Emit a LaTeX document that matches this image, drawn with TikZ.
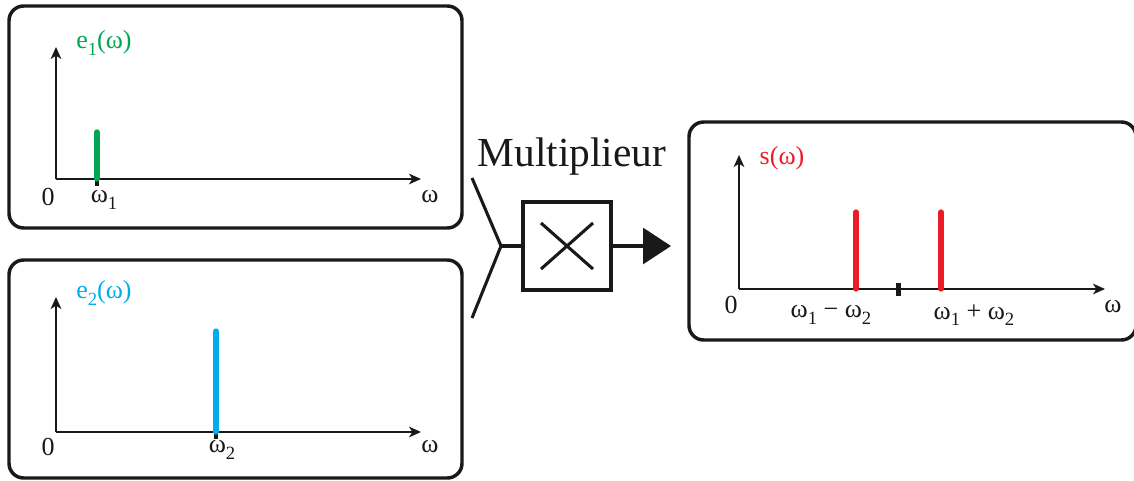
\documentclass[tikz,border=0pt]{standalone}
\usepackage{fontspec}
\setmainfont{Liberation Serif}
\usetikzlibrary{arrows.meta}
\definecolor{sgreen}{HTML}{00A651}
\definecolor{sblue}{HTML}{00AEEF}
\definecolor{sred}{HTML}{ED1C24}
\newcommand\mysub[1]{\raisebox{-0.55ex}{\fontsize{14}{14}\selectfont #1}}
\tikzset{
  panel/.style={draw=black!90, line width=2.6pt, rounded corners=11pt, inner sep=0pt},
  axis/.style={line width=1.1pt, draw=black!90, -{Stealth[length=9pt,width=8pt,inset=2.5pt]}},
  spec/.style={line width=4pt, line cap=round},
  tickmark/.style={line width=3.5pt, draw=black!90},
  lbl/.style={font=\fontsize{19.5}{21}\selectfont, inner sep=0pt, text=black!90},
  wire/.style={line width=2.3pt, draw=black!90},
  mult/.style={draw=black!90, line width=2.3pt, minimum size=66pt, inner sep=0pt}
}
\begin{document}
\begin{tikzpicture}[x=0.75pt,y=-0.75pt]
\useasboundingbox (0,0) rectangle (1134,481);
\clip (0,0) rectangle (1134,481);
% panels
\node[panel, minimum width=339.75pt, minimum height=166.5pt] (p1) at (235.5,117) {};
\node[panel, minimum width=339.75pt, minimum height=163.5pt] (p2) at (235.5,369) {};
\node[panel, minimum width=335.25pt, minimum height=163.5pt] (p3) at (912.5,231) {};
% panel 1
\coordinate (o1) at (56,179); \coordinate (y1) at (56,47); \coordinate (x1) at (421,179);
\draw[axis] (o1) -- (y1);
\draw[axis] (o1) -- (x1);
\coordinate (g0) at (97,179); \coordinate (g1) at (97,132); \coordinate (gt) at (97,186);
\draw[tickmark] (g0) -- (gt);
\draw[spec, sgreen] (g0) -- (g1);
\node[lbl, text=sgreen] (e1) at (104,43) {e\mysub{1}(ω)};
\node[lbl] (z1) at (48,197) {0};
\node[lbl] (w1) at (104,200) {ω\mysub{1}};
\node[lbl] (wa) at (430,197) {ω};
% panel 2
\coordinate (o2) at (56,432); \coordinate (y2) at (56,297); \coordinate (x2) at (421,432);
\draw[axis] (o2) -- (y2);
\draw[axis] (o2) -- (x2);
\coordinate (b0) at (216,432); \coordinate (b1) at (216,331); \coordinate (bt) at (216,439);
\draw[tickmark] (b0) -- (bt);
\draw[spec, sblue] (b0) -- (b1);
\node[lbl, text=sblue] (e2) at (104,293) {e\mysub{2}(ω)};
\node[lbl] (z2) at (48,447) {0};
\node[lbl] (w2) at (222,450) {ω\mysub{2}};
\node[lbl] (wb) at (430,447) {ω};
% panel 3
\coordinate (o3) at (739,289); \coordinate (y3) at (739,155); \coordinate (x3) at (1105,289);
\draw[axis] (o3) -- (y3);
\draw[axis] (o3) -- (x3);
\coordinate (ra0) at (856,289); \coordinate (ra1) at (856,212);
\coordinate (rb0) at (941,289); \coordinate (rb1) at (941,212);
\coordinate (tk0) at (898.5,283); \coordinate (tk1) at (898.5,296);
\draw[tickmark] (tk0) -- (tk1);
\draw[spec, sred] (ra0) -- (ra1);
\draw[spec, sred] (rb0) -- (rb1);
\node[lbl, text=sred] (s) at (782,158) {s(ω)};
\node[lbl] (z3) at (731,305) {0};
\node[lbl] (dm) at (831,315) {ω\mysub{1} − ω\mysub{2}};
\node[lbl] (dp) at (974,315) {ω\mysub{1} + ω\mysub{2}};
\node[lbl] (wc) at (1113,307) {ω};
% multiplier
\node[font=\fontsize{31}{34}\selectfont, inner sep=0pt, text=black!90] (mt) at (572,157) {Multiplieur};
\node[mult] (m) at (567,246) {};
\draw[wire] (m.center) ++(-26,-23) -- ++(52,46);
\draw[wire] (m.center) ++(26,-23) -- ++(-52,46);
\coordinate (j) at (501,246);
\coordinate (in1) at (472,178);
\coordinate (in2) at (472,318);
\coordinate (out) at (671,246);
\draw[wire, line join=miter] (in1) -- (j) -- (in2);
\draw[wire] (j) -- (m.west);
\draw[wire, -{Triangle[length=21pt,width=27pt]}] (m.east) -- (out);
\end{tikzpicture}
\end{document}
